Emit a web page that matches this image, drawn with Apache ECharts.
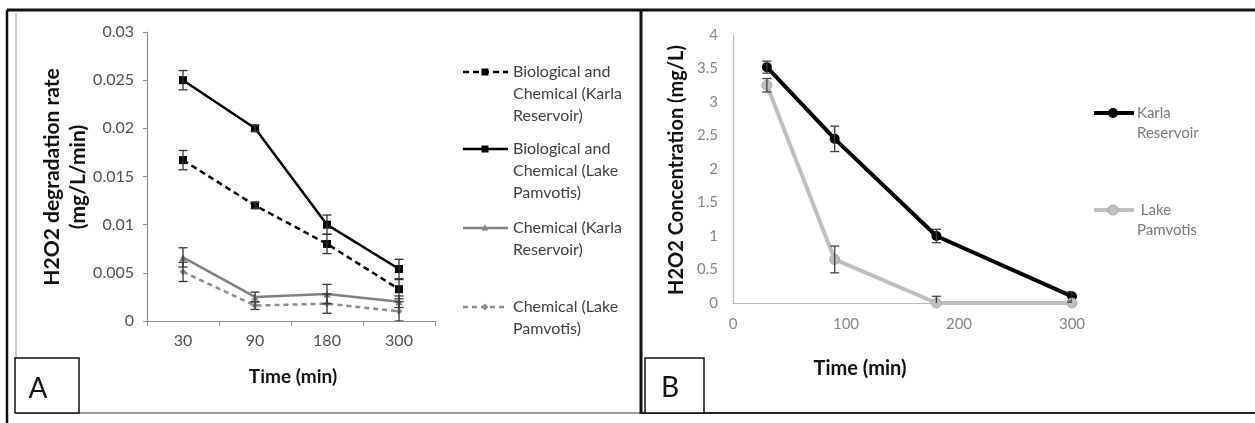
<!DOCTYPE html>
<html>
<head>
<meta charset="utf-8">
<script src="https://cdn.jsdelivr.net/npm/echarts@6/dist/echarts.min.js"></script>
<style>
  html, body { margin: 0; padding: 0; background: #fff; }
  #chart { width: 1255px; height: 423px; }
</style>
</head>
<body>
<div id="chart"></div>
<script>
// Panel A: H2O2 degradation rate per sampling time
const timesA = ['30', '90', '180', '300'];
const bioChemKarla = [0.0167, 0.012, 0.008, 0.0033];
const bioChemKarlaErr = [0.001, 0.0003, 0.001, 0.001];
const bioChemPamvotis = [0.025, 0.02, 0.01, 0.0054];
const bioChemPamvotisErr = [0.001, 0.0003, 0.001, 0.001];
const chemKarla = [0.0066, 0.0025, 0.0028, 0.002];
const chemKarlaErr = [0.001, 0.0005, 0.001, 0.0006];
const chemPamvotis = [0.0051, 0.0016, 0.0018, 0.001];
const chemPamvotisErr = [0.001, 0.0004, 0.001, 0.001];

// Panel B: H2O2 concentration over time
const timesB = [30, 90, 180, 300];
const karla = [3.52, 2.45, 1.0, 0.1];
const karlaErr = [0.09, 0.19, 0.1, 0.07];
const pamvotis = [3.25, 0.65, 0, 0];
const pamvotisErr = [0.1, 0.2, 0.1, 0];

const FONT = 'Lato, "Open Sans", sans-serif';

function errData(xs, vals, errs) {
  return vals.map((v, i) => [xs[i], v - errs[i], v + errs[i]]);
}

function errorSeries(xAxisIndex, yAxisIndex, data, color, cap) {
  return {
    type: 'custom',
    xAxisIndex, yAxisIndex,
    clip: true,
    silent: true,
    z: 5,
    data,
    renderItem: function (params, api) {
      const lo = api.coord([api.value(0), api.value(1)]);
      const hi = api.coord([api.value(0), api.value(2)]);
      const x = lo[0];
      const style = { stroke: color, lineWidth: 1.3, fill: null };
      return {
        type: 'group',
        children: [
          { type: 'line', shape: { x1: x, y1: lo[1], x2: x, y2: hi[1] }, style },
          { type: 'line', shape: { x1: x - cap, y1: lo[1], x2: x + cap, y2: lo[1] }, style },
          { type: 'line', shape: { x1: x - cap, y1: hi[1], x2: x + cap, y2: hi[1] }, style }
        ]
      };
    }
  };
}

const idxA = timesA.map((t, i) => i);

const option = {
  animation: false,
  backgroundColor: '#ffffff',
  textStyle: { fontFamily: FONT },
  grid: [
    { left: 147, top: 32, width: 288, height: 289 },
    { left: 733, top: 35, width: 339, height: 268 }
  ],
  xAxis: [
    {
      gridIndex: 0, type: 'category', data: timesA, boundaryGap: true,
      axisLine: { lineStyle: { color: '#8c8c8c', width: 1.2 } },
      axisTick: { show: true, length: 5, lineStyle: { color: '#8c8c8c' } },
      axisLabel: { color: '#505050', fontSize: 16, fontFamily: FONT, margin: 12 },
      splitLine: { show: false }
    },
    {
      gridIndex: 1, type: 'value', min: 0, max: 300, interval: 100,
      axisLine: { show: true, lineStyle: { color: '#b8b8b8', width: 1.2 } },
      axisTick: { show: false },
      axisLabel: { color: '#858585', fontSize: 15, fontFamily: FONT, margin: 14 },
      splitLine: { show: false }
    }
  ],
  yAxis: [
    {
      gridIndex: 0, type: 'value', min: 0, max: 0.03, interval: 0.005,
      axisLine: { show: true, lineStyle: { color: '#8c8c8c', width: 1.2 } },
      axisTick: { show: true, length: 4, lineStyle: { color: '#8c8c8c' } },
      axisLabel: { color: '#505050', fontSize: 16, fontFamily: FONT, margin: 13 },
      splitLine: { show: false }
    },
    {
      gridIndex: 1, type: 'value', min: 0, max: 4, interval: 0.5,
      axisLine: { show: true, lineStyle: { color: '#b8b8b8', width: 1.2 } },
      axisTick: { show: false },
      axisLabel: { color: '#858585', fontSize: 15, fontFamily: FONT, margin: 15 },
      splitLine: { show: false }
    }
  ],
  series: [
    {
      name: 'Biological and Chemical (Karla Reservoir)', type: 'line',
      xAxisIndex: 0, yAxisIndex: 0, data: bioChemKarla,
      symbol: 'rect', symbolSize: 8,
      lineStyle: { color: '#000', width: 2.5, type: [6, 4] },
      itemStyle: { color: '#000' }, z: 3
    },
    {
      name: 'Biological and Chemical (Lake Pamvotis)', type: 'line',
      xAxisIndex: 0, yAxisIndex: 0, data: bioChemPamvotis,
      symbol: 'rect', symbolSize: 8,
      lineStyle: { color: '#000', width: 2.5 },
      itemStyle: { color: '#000' }, z: 3
    },
    {
      name: 'Chemical (Karla Reservoir)', type: 'line',
      xAxisIndex: 0, yAxisIndex: 0, data: chemKarla,
      symbol: 'triangle', symbolSize: 7,
      lineStyle: { color: '#808080', width: 2.5 },
      itemStyle: { color: '#808080' }, z: 3
    },
    {
      name: 'Chemical (Lake Pamvotis)', type: 'line',
      xAxisIndex: 0, yAxisIndex: 0, data: chemPamvotis,
      symbol: 'diamond', symbolSize: 7,
      lineStyle: { color: '#8c8c8c', width: 2.5, type: [5, 4] },
      itemStyle: { color: '#8c8c8c' }, z: 3
    },
    errorSeries(0, 0, errData(idxA, bioChemKarla, bioChemKarlaErr), '#333', 4.5),
    errorSeries(0, 0, errData(idxA, bioChemPamvotis, bioChemPamvotisErr), '#333', 4.5),
    errorSeries(0, 0, errData(idxA, chemKarla, chemKarlaErr), '#333', 4.5),
    errorSeries(0, 0, errData(idxA, chemPamvotis, chemPamvotisErr), '#333', 4.5),
    {
      name: 'Karla Reservoir', type: 'line',
      xAxisIndex: 1, yAxisIndex: 1, data: timesB.map((t, i) => [t, karla[i]]),
      symbol: 'circle', symbolSize: 10,
      lineStyle: { color: '#000', width: 4 },
      itemStyle: { color: '#000' }, z: 3
    },
    {
      name: 'Lake Pamvotis', type: 'line',
      xAxisIndex: 1, yAxisIndex: 1, data: timesB.map((t, i) => [t, pamvotis[i]]),
      symbol: 'circle', symbolSize: 10,
      lineStyle: { color: '#bfbfbf', width: 4 },
      itemStyle: { color: '#bfbfbf', borderColor: '#a8a8a8', borderWidth: 1 }, z: 4
    },
    errorSeries(1, 1, errData(timesB, karla, karlaErr), '#404040', 4.5),
    errorSeries(1, 1, errData(timesB, pamvotis, pamvotisErr), '#404040', 4.5)
  ],
  graphic: []
};

// Frames, panel letters, axis titles and legends
const g = option.graphic;
// outer frame
g.push({ type: 'line', shape: { x1: 7, y1: 10, x2: 1255, y2: 10 }, style: { stroke: '#111', lineWidth: 3 } });
g.push({ type: 'line', shape: { x1: 7, y1: 10, x2: 7, y2: 423 }, style: { stroke: '#111', lineWidth: 2.5 } });
g.push({ type: 'line', shape: { x1: 16, y1: 13, x2: 16, y2: 413 }, style: { stroke: '#9a9a9a', lineWidth: 1 } });
g.push({ type: 'line', shape: { x1: 16, y1: 413, x2: 640, y2: 413 }, style: { stroke: '#9a9a9a', lineWidth: 2 } });
g.push({ type: 'line', shape: { x1: 641, y1: 10, x2: 641, y2: 414 }, style: { stroke: '#111', lineWidth: 3 } });
g.push({ type: 'line', shape: { x1: 641, y1: 413, x2: 1255, y2: 413 }, style: { stroke: '#222', lineWidth: 2 } });

// panel letters
g.push({ type: 'rect', shape: { x: 15, y: 358, width: 64, height: 55 }, style: { stroke: '#111', lineWidth: 1.5, fill: '#fff' } });
g.push({ type: 'text', x: 38, y: 389, style: { text: 'A', font: '28px ' + FONT, fill: '#111', textAlign: 'center', textVerticalAlign: 'middle' } });
g.push({ type: 'rect', shape: { x: 645, y: 358, width: 59, height: 55 }, style: { stroke: '#111', lineWidth: 1.5, fill: '#fff' } });
g.push({ type: 'text', x: 670, y: 388, style: { text: 'B', font: '28px ' + FONT, fill: '#111', textAlign: 'center', textVerticalAlign: 'middle' } });

// axis titles
g.push({ type: 'text', x: 293, y: 377, style: { text: 'Time (min)', font: 'bold 19px ' + FONT, fill: '#111', textAlign: 'center', textVerticalAlign: 'middle' } });
g.push({ type: 'text', x: 65, y: 177, rotation: Math.PI / 2, style: { text: 'H2O2 degradation rate\n(mg/L/min)', font: 'bold 21px ' + FONT, fill: '#111', textAlign: 'center', textVerticalAlign: 'middle', lineHeight: 26 } });
g.push({ type: 'text', x: 860, y: 369, style: { text: 'Time (min)', font: 'bold 20px ' + FONT, fill: '#111', textAlign: 'center', textVerticalAlign: 'middle' } });
g.push({ type: 'text', x: 677, y: 170, rotation: Math.PI / 2, style: { text: 'H2O2 Concentration (mg/L)', font: 'bold 20px ' + FONT, fill: '#111', textAlign: 'center', textVerticalAlign: 'middle' } });

// legend entries drawn as line + marker + wrapped label
function legendEntry(x1, x2, y, lineStyle, symbol, lines, tx, lh, font, color) {
  g.push({ type: 'line', shape: { x1, y1: y, x2, y2: y }, style: lineStyle });
  g.push(Object.assign({}, symbol));
  lines.forEach((t, k) => {
    g.push({ type: 'text', x: tx, y: y + k * lh, style: { text: t, font, fill: color, textVerticalAlign: 'middle' } });
  });
}
const legFontA = '16px ' + FONT;
legendEntry(463, 508, 72, { stroke: '#000', lineWidth: 2.5, lineDash: [6, 4] },
  { type: 'rect', shape: { x: 481.5, y: 68.5, width: 7, height: 7 }, style: { fill: '#000' } },
  ['Biological and', 'Chemical (Karla', 'Reservoir)'], 513, 22, legFontA, '#404040');
legendEntry(463, 508, 149, { stroke: '#000', lineWidth: 2.5 },
  { type: 'rect', shape: { x: 481.5, y: 145.5, width: 7, height: 7 }, style: { fill: '#000' } },
  ['Biological and', 'Chemical (Lake', 'Pamvotis)'], 513, 22, legFontA, '#404040');
legendEntry(463, 508, 228, { stroke: '#808080', lineWidth: 2.5 },
  { type: 'polygon', shape: { points: [[485, 224.5], [488.5, 230.5], [481.5, 230.5]] }, style: { fill: '#808080' } },
  ['Chemical (Karla', 'Reservoir)'], 513, 22, legFontA, '#404040');
legendEntry(463, 508, 307, { stroke: '#8c8c8c', lineWidth: 2.5, lineDash: [5, 4] },
  { type: 'polygon', shape: { points: [[485, 303.5], [488.5, 307], [485, 310.5], [481.5, 307]] }, style: { fill: '#8c8c8c' } },
  ['Chemical (Lake', 'Pamvotis)'], 513, 22, legFontA, '#404040');

const legFontB = '15px ' + FONT;
legendEntry(1094, 1134, 113, { stroke: '#000', lineWidth: 4 },
  { type: 'circle', shape: { cx: 1113, cy: 113, r: 5 }, style: { fill: '#000' } },
  ['Karla', 'Reservoir'], 1137, 20, legFontB, '#7a7a7a');
legendEntry(1094, 1134, 210, { stroke: '#bfbfbf', lineWidth: 4 },
  { type: 'circle', shape: { cx: 1113, cy: 210, r: 5 }, style: { fill: '#bfbfbf', stroke: '#a8a8a8', lineWidth: 1 } },
  [' Lake', 'Pamvotis'], 1137, 20, legFontB, '#7a7a7a');

const chart = echarts.init(document.getElementById('chart'), null, { renderer: 'canvas' });
chart.setOption(option);
</script>
</body>
</html>
